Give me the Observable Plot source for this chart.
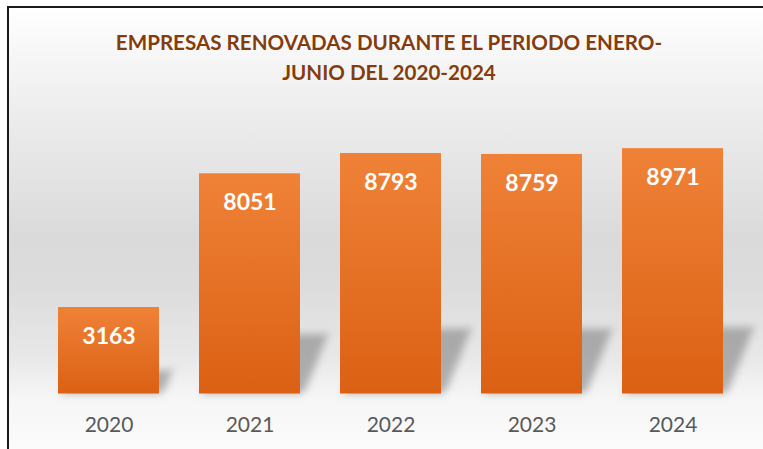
<!DOCTYPE html>
<html>
<head>
<meta charset="utf-8">
<script src="https://cdn.jsdelivr.net/npm/d3@7"></script>
<script src="https://cdn.jsdelivr.net/npm/@observablehq/plot@0.6"></script>
<style>
  html, body { margin: 0; padding: 0; background: #ffffff; width: 763px; height: 449px; overflow: hidden; position: relative; }
  #frame {
    position: absolute; left: 7px; top: 6px; width: 762px; height: 460px;
    border-left: 2px solid #1a1a1a; border-top: 2px solid #1a1a1a;
    background: linear-gradient(to bottom, #ffffff 0px, #f6f6f6 50px, #ececec 110px, #dadada 230px, #dcdcdc 280px, #e8e8e8 350px, #f6f6f6 390px, #fbfbfb 441px);
  }
  #title {
    position: absolute; left: 7px; width: 764px; top: 27px;
    text-align: center; font-family: Lato, "Open Sans", sans-serif; font-weight: 700;
    font-size: 20.6px; line-height: 30px; color: #843c0c;
    text-shadow: 0 0 2px rgba(255,255,255,0.8);
  }
  #chart { position: absolute; left: 0; top: 100px; }
</style>
</head>
<body>
<div id="frame"></div>
<div id="title"></div>
<div id="chart"></div>
<script>
const titleLines = ["EMPRESAS RENOVADAS DURANTE EL PERIODO ENERO-", "JUNIO DEL 2020-2024"];
const years = ["2020", "2021", "2022", "2023", "2024"];
const values = [3163, 8051, 8793, 8759, 8971];

const data = years.map((year, i) => ({year, value: values[i]}));

document.getElementById("title").innerHTML = titleLines.join("<br>");

const H = 349, MB = 55.5, MT = 20;
const chart = Plot.plot({
  width: 763,
  height: H,
  marginLeft: 36.8,
  marginRight: 19.8,
  marginTop: MT,
  marginBottom: MB,
  style: {background: "transparent", overflow: "visible", fontFamily: "Lato, 'Open Sans', sans-serif", fontSize: "21px", color: "#595959"},
  x: {domain: years, paddingInner: 0.2857, paddingOuter: 0.1429, label: null, tickSize: 0, tickPadding: 23},
  y: {domain: [0, 10000], axis: null},
  marks: [
    Plot.barY(data, {x: "year", y: d => d.value * 0.27, fill: "#6e6e6e", fillOpacity: 0.5}),
    Plot.barY(data, {x: "year", y: "value", fill: "url(#barGrad)"}),
    Plot.text(data, {x: "year", y: "value", text: d => String(d.value), dy: 29, fill: "white", fontWeight: 700, fontSize: 23})
  ]
});

const svg = d3.select(chart);
svg.insert("defs", ":first-child").html(`
  <linearGradient id="barGrad" x1="0" y1="0" x2="0" y2="1">
    <stop offset="0%" stop-color="#ef8238"/>
    <stop offset="100%" stop-color="#db6013"/>
  </linearGradient>
  <filter id="shadowBlur" x="-50%" y="-50%" width="200%" height="200%">
    <feGaussianBlur stdDeviation="4"/>
  </filter>`);
const base = H - MB;
const shadowGroup = chart.querySelectorAll('g[aria-label="bar"]')[0];
shadowGroup.setAttribute("transform", `translate(4,0) translate(0,${base}) skewX(-22) translate(0,${-base})`);
shadowGroup.setAttribute("filter", "url(#shadowBlur)");

document.getElementById("chart").appendChild(chart);
</script>
</body>
</html>
